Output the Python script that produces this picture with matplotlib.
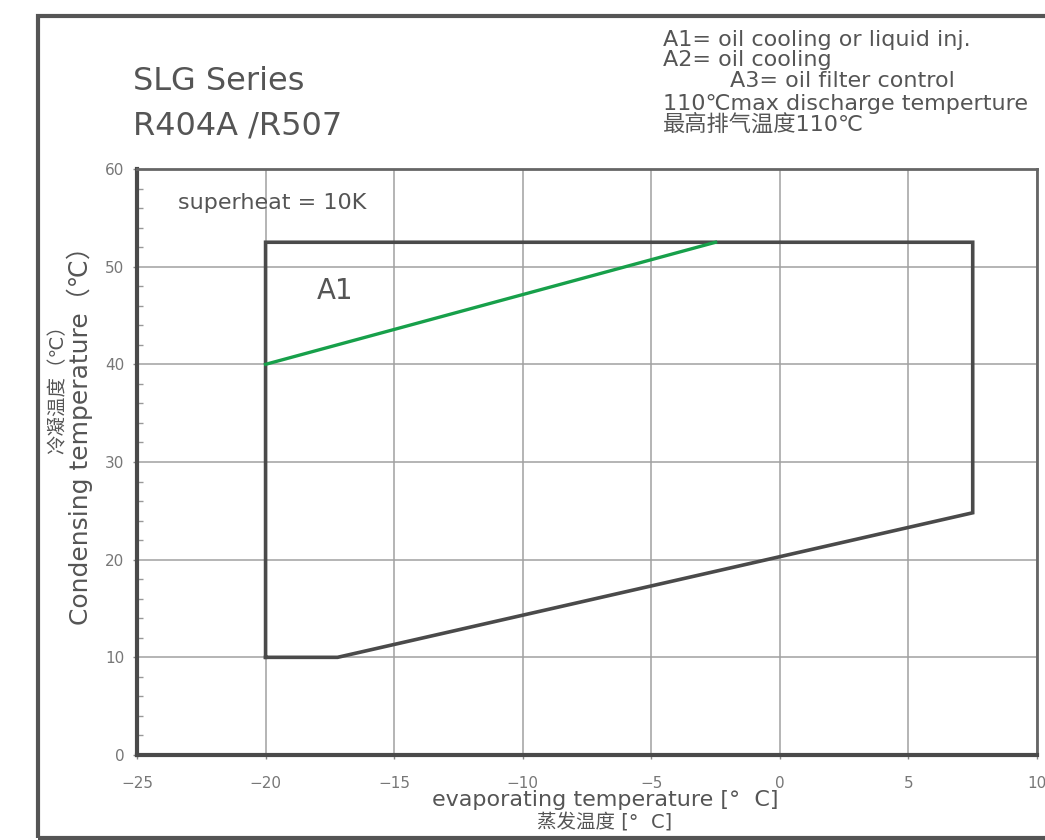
import matplotlib
matplotlib.use('Agg')
import matplotlib.pyplot as plt
from matplotlib.patches import Rectangle
from matplotlib.ticker import MultipleLocator

plt.rcParams['font.family'] = ['DejaVu Sans', 'Noto Sans CJK SC']

# envelope of the compressor (evaporating vs condensing temperature)
envelope_x = [-20, -20, 7.5, 7.5, -17.2, -20]
envelope_y = [10, 52.5, 52.5, 24.8, 10, 10]

# A1 limit line
a1_x = [-20, -2.5]
a1_y = [40, 52.5]

x_ticks = [-25, -20, -15, -10, -5, 0, 5, 10]
y_ticks = [0, 10, 20, 30, 40, 50, 60]

notes = ["A1= oil cooling or liquid inj.",
         "A2= oil cooling",
         "A3= oil filter control",
         "110℃max discharge temperture",
         "最高排气温度110℃"]

dark = '#4a4a4a'
txt = '#555555'

fig = plt.figure(figsize=(10.45, 8.4), dpi=100)
fig.patch.set_facecolor('white')

# outer frame of the sheet
fig.patches.append(Rectangle((38 / 1045, 2 / 840), 1.0, 822 / 840, transform=fig.transFigure,
                             fill=False, edgecolor='#555555', linewidth=3))

ax = fig.add_axes([137 / 1045, 1 - 755 / 840, 900 / 1045, 586 / 840])
ax.plot(envelope_x, envelope_y, color=dark, linewidth=2.6, solid_joinstyle='miter')
ax.plot(a1_x, a1_y, color='#17a04a', linewidth=2.4)

ax.set_xlim(-25, 10)
ax.set_ylim(0, 60)
ax.set_xticks(x_ticks)
ax.set_yticks(y_ticks)
ax.yaxis.set_minor_locator(MultipleLocator(2))
ax.grid(True, which='major', color='#a0a0a0', linewidth=1.1)
ax.set_axisbelow(True)

ax.tick_params(axis='both', which='major', direction='out', length=3, width=1,
               colors='#888888', labelcolor='#777777', labelsize=11)
ax.tick_params(axis='x', pad=12)
ax.tick_params(axis='y', pad=6)
ax.tick_params(axis='y', which='minor', direction='in', length=4, width=1, colors='#999999')

for side in ['left', 'bottom']:
    ax.spines[side].set_linewidth(3)
    ax.spines[side].set_color(dark)
for side in ['top', 'right']:
    ax.spines[side].set_linewidth(2)
    ax.spines[side].set_color('#666666')

ax.text(-23.4, 56.5, "superheat = 10K", fontsize=16, color=txt, va='center')
ax.text(-18, 47.5, "A1", fontsize=20, color=txt, va='center')

# titles
fig.text(133 / 1045, 1 - 81 / 840, "SLG Series", fontsize=23, color=txt, va='center')
fig.text(133 / 1045, 1 - 126 / 840, "R404A /R507", fontsize=23, color=txt, va='center')

# notes at top right
note_pos = [(663, 40), (663, 60), (730, 81), (663, 104), (663, 124)]
for s, (px, py) in zip(notes, note_pos):
    fig.text(px / 1045, 1 - py / 840, s, fontsize=16, color=txt, va='center')

# axis labels
fig.text(605 / 1045, 1 - 800 / 840, "evaporating temperature [°  C]", fontsize=16,
         color=txt, ha='center', va='center')
fig.text(605 / 1045, 1 - 823 / 840, "蒸发温度 [°  C]", fontsize=14,
         color=txt, ha='center', va='center')
fig.text(80 / 1045, 1 - 430 / 840, "Condensing temperature（℃）", fontsize=18,
         color=txt, ha='center', va='center', rotation=90)
fig.text(58 / 1045, 1 - 385 / 840, "冷凝温度（℃）", fontsize=14,
         color=txt, ha='center', va='center', rotation=90)

fig.savefig('out.png', dpi=100)
